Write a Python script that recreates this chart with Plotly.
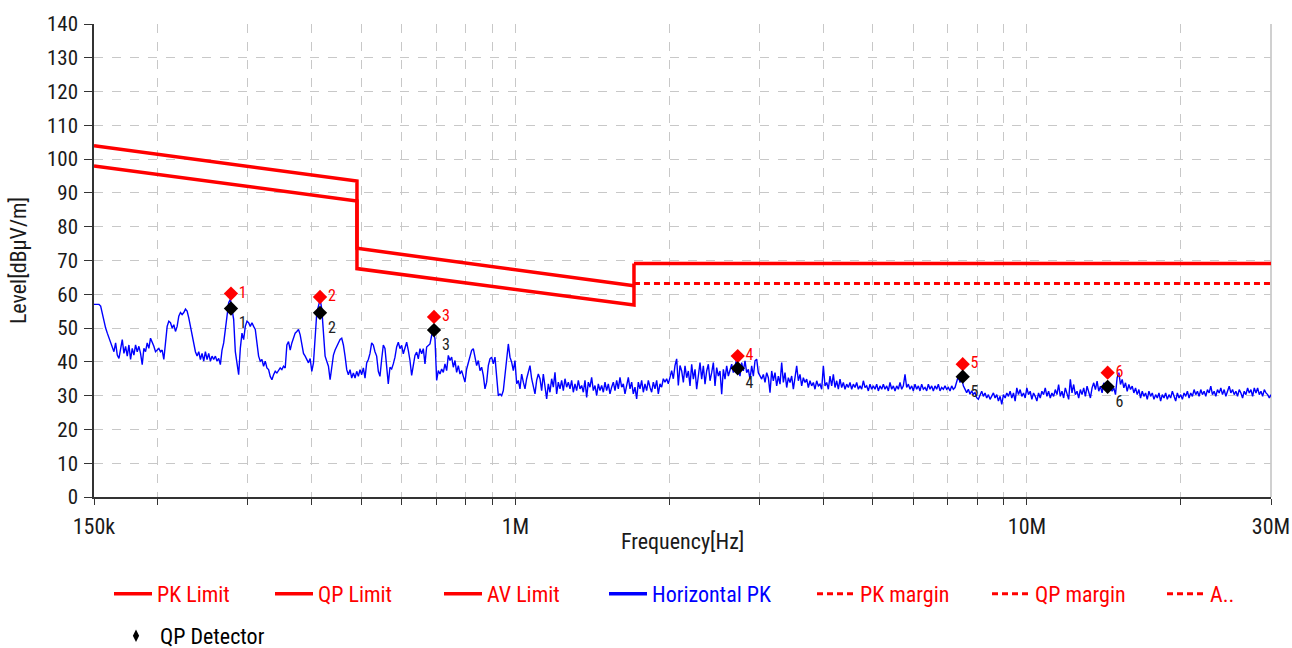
import numpy as np
import plotly.graph_objects as go

# ---------------- data ----------------
# Horizontal PK scan, four sweep segments (levels in dBuV/m)
seg_a_levels = [
    57, 57, 57, 57, 56.5, 54, 51.6, 50, 48.5, 47,
    45.6, 44, 43, 45.6, 42, 41, 44, 46.6, 42.5, 44.6,
    41.7, 45, 40.7, 44, 42, 45, 43, 44.6, 42.5, 39.2,
    44, 43, 45.6, 44, 47, 46, 44.6, 43, 43.5, 44,
    43, 43.5, 40.7, 46, 50.5, 52, 51.6, 50, 51, 49,
    50.5, 53.5, 54.6, 54, 54.6, 55.6, 55, 53, 50.5, 47.6,
    45, 43, 41.7, 43, 40.7, 42.5, 40.2, 43, 40.7, 42.5,
    40.2, 41.7, 40.7, 41.7, 40.2, 41, 39.2, 43.5, 45.6, 49.7,
    54, 57.5, 58.5, 56, 52.6, 43, 38.7, 36.2, 44, 48.5,
    46.6, 50.5, 52, 51.6, 50.5, 51.6, 50.5, 49.6, 45.6, 41.7,
    40.2, 40.7, 38.7, 40.2, 38.2, 37.7, 35.7, 34.7, 36.2, 37.2,
    36.7, 37.7, 38.2, 37.7, 38.7, 38.2, 45, 46, 43.5, 45.6,
    47, 48.5, 49, 49.6, 48, 45.6, 42.5, 41.7, 40.7, 39.7,
    41, 37.2, 39.7, 47.6, 54.6, 56.5, 58.5, 55.6, 48.5, 41.7,
    40.2, 38.7, 34.7, 38.7, 42, 43.5, 44.6, 45.6, 46.6, 47,
    45, 41.7, 37.7, 36.2, 37.7, 35.2, 36.7, 35.2, 37.2, 35.7,
    37.7, 36.2, 38.2, 35.2, 39.7, 40.7, 42.5, 45.6, 45, 43,
    41.7, 37.2, 35.7, 40.7, 45, 44, 37.7, 33.5,
]
seg_b_levels = [
    38.4, 37.9, 39.4, 41.4, 44.4, 45.8, 43.9, 44.9, 42.4, 43.9,
    45.8, 43.4, 40.4, 36, 38.9, 41.9, 42.9, 40.9, 43.9, 42.4,
    43.9, 39.4, 44.4, 44.9, 45.3, 47.8, 48.8, 46.8, 34.5, 37.4,
    36.4, 37.9, 36.9, 39.4, 37.4, 41.9, 40.4, 41.4, 38.4, 40.4,
    36.9, 38.9, 36.4, 37.4, 35.4, 34, 37.9, 39.9, 41.4, 43.4,
    43.9, 40.9, 38.9, 40.4, 37.4, 38.4, 36, 32, 34, 38.9,
    40.9, 41.4, 39.4, 41.4, 35, 30, 30.5, 30, 31.5, 36.4,
    41.4, 45.3, 41.4, 39.9, 37.4, 40.4, 33.5, 34.5, 32, 36.4,
    34, 32, 35, 37.4, 38.9, 35, 33, 30.5, 34.5, 36.4,
    35, 31.5, 36.4, 32, 29, 33.5, 31, 35, 32.5, 36.9,
    30.5, 34, 32, 34.5, 31.5, 35, 32.5, 34, 32, 34.5,
    31, 33.5, 31.5, 34.5, 32, 33, 31, 34.5, 29.5, 34,
    32.5, 35.4, 31.5, 33, 30, 33.5, 31.5, 33, 31, 34,
    31.5, 33.5, 30.5, 32.5, 34, 31.5, 34.5, 32, 35.4, 32.5,
    33.5, 30.5, 33, 35.4, 32, 34, 30.5, 32.5, 29, 34,
    32, 34.5, 31, 33.5, 31.5, 34.5, 32.5, 31, 34, 32,
    34.5, 30.5, 33.5, 32.5, 35, 34, 35, 33.5, 35.4, 37.4,
    35, 38.9, 40.9, 33, 38.9,
]
seg_c_levels = [
    37.3, 33.9, 38.8, 35.3, 37.3, 32.9, 39.3, 34.9, 37.8, 31.9,
    36.8, 39.8, 34.9, 38.8, 33.4, 37.3, 39.3, 34.4, 36.8, 39.8,
    32.9, 38.3, 35.8, 37.3, 30.4, 37.8, 34.9, 38.8, 35.8, 37.3,
    39.3, 36.8, 38.8, 40.8, 37.3, 35.8, 39.8, 37.3, 40.3, 36.8,
    37.8, 34.9, 38.8, 35.8, 40.3, 40.8, 36.8, 35.8, 34.9, 36.3,
    33.9, 36.8, 35.3, 30.9, 37.3, 34.4, 36.8, 32.9, 35.8, 33.4,
    39.8, 33.9, 36.8, 32.4, 35.3, 33.9, 35.8, 31.9, 34.9, 38.8,
    34.4, 36.3, 32.9, 35.3, 33.9, 34.9, 32.4, 34.4, 32.9, 33.9,
    31.9, 34.4, 32.9, 33.4, 31.9, 38.8, 32.9, 33.9, 31.9, 35.8,
    32.9, 36.3, 32.4, 34.4, 31.9, 34.9, 32.4, 33.9, 31.9, 33.4,
    32.4, 33.9, 31.9, 33.4, 32.4, 33.9, 31.9, 32.9, 31.9, 34.4,
    32.4, 32.9, 31.4, 33.4, 31.9, 32.9, 31.9, 33.4, 31.4, 32.9,
    31.9, 33.4, 31.9, 32.9, 31.4, 33.9, 31.9, 32.9, 31.4, 32.9,
    31.9, 33.9, 31.9, 32.9, 36.3, 32.4, 33.4, 31.9, 32.9, 31.4,
    33.4, 31.9, 32.9, 31.4, 33.4, 31.9, 32.4, 31.4, 33.4, 31.9,
    32.9, 31.4, 32.9, 31.9, 33.4, 31.4, 32.4, 31.9, 32.9, 31.9,
    32.4, 31.4, 32.9, 31.9, 32.4, 34.4, 35.8, 33.9, 35.3, 32.9,
    31.9, 30.9, 31.9, 30.4, 31.4, 30.4, 30.9, 29.4, 28.9,
]
seg_d_levels = [
    30.3, 31.3, 29.8, 30.8, 29.3, 30.3, 28.9, 29.8, 30.8, 29.3,
    30.3, 28.4, 29.8, 27.4, 30.3, 29.3, 30.8, 29.8, 31.3, 29.3,
    30.8, 28.4, 32.3, 30.3, 31.8, 29.8, 30.8, 29.3, 32.3, 30.3,
    31.3, 28.9, 30.8, 29.8, 28.4, 30.8, 29.3, 31.3, 30.3, 32.3,
    29.8, 31.3, 29.3, 30.8, 29.8, 31.8, 30.3, 33.3, 29.8, 31.3,
    29.3, 32.3, 30.3, 28.9, 34.8, 30.8, 33.3, 30.3, 31.3, 29.3,
    31.8, 30.3, 32.3, 29.8, 32.8, 31.3, 29.3, 32.3, 33.8, 31.8,
    34.3, 31.3, 32.8, 30.8, 33.8, 32.3, 33.3, 31.8, 32.8, 31.3,
    32.3, 30.3, 35.3, 36.8, 33.3, 34.8, 32.3, 33.8, 31.3, 33.3,
    31.8, 32.8, 30.8, 32.3, 30.3, 31.8, 29.3, 31.3, 29.8, 30.8,
    28.9, 31.3, 29.8, 30.8, 28.9, 30.3, 29.3, 30.8, 28.4, 30.3,
    29.3, 30.8, 28.9, 30.3, 29.3, 31.3, 29.8, 28.4, 30.8, 29.3,
    30.3, 28.9, 30.8, 29.8, 31.3, 29.3, 30.8, 29.8, 31.8, 30.3,
    31.3, 29.8, 31.8, 30.3, 31.3, 29.8, 31.8, 30.8, 32.8, 30.3,
    31.3, 29.8, 31.8, 30.8, 32.3, 30.3, 31.8, 29.8, 31.3, 32.8,
    30.8, 31.8, 30.3, 31.3, 29.8, 31.8, 30.8, 29.3, 31.3, 30.3,
    32.3, 30.8, 31.8, 29.8, 32.3, 30.8, 32.3, 30.3, 31.3, 29.8,
    31.8, 30.8, 30.3, 29.3, 30.3,
]
# start / stop frequency (Hz) of each sweep segment
seg_start_hz = [150e3, 568.5e3, 2.1135e6, 8.096e6]
seg_stop_hz = [564.2e3, 2.0975e6, 8.035e6, 30e6]

# limit lines
pk_limit_hz = [150e3, 490e3, 490e3, 1.705e6]
pk_limit_db = [104, 93.5, 73.6, 62.5]
qp_limit_hz = [150e3, 490e3, 490e3, 1.705e6, 1.705e6]
qp_limit_db = [98, 87.6, 67.6, 56.8, 69.1]
av_limit_hz = [1.705e6, 30e6]
av_limit_db = [69.1, 69.1]
pk_margin_hz = [1.705e6, 30e6]
pk_margin_db = [63.2, 63.2]

# detector readings
marker_hz = [277.9e3, 414.9e3, 693.1e3, 2.720e6, 7.489e6, 14.38e6]
peak_db = [60.2, 59.2, 53.3, 41.7, 39.3, 36.8]
qp_db = [55.8, 54.5, 49.4, 38.1, 35.6, 32.6]
marker_no = ["1", "2", "3", "4", "5", "6"]

# axis ticks
x_tick_hz = [150e3, 200e3, 300e3, 400e3, 500e3, 600e3, 700e3, 800e3, 900e3,
             1e6, 2e6, 3e6, 4e6, 5e6, 6e6, 7e6, 8e6, 9e6, 10e6, 20e6, 30e6]
x_tick_label = {150e3: "150k", 1e6: "1M", 10e6: "10M", 30e6: "30M"}
y_ticks = list(range(0, 141, 10))

# ---------------- figure ----------------
FONT = "Liberation Sans Narrow, Arial Narrow, Roboto Condensed, DejaVu Sans Condensed, sans-serif"
RED = "#ff0000"
BLUE = "#0000ff"
INK = "#1a1a1a"

segs = [seg_a_levels, seg_b_levels, seg_c_levels, seg_d_levels]
scan_hz = np.concatenate([np.geomspace(a, b, len(l)) for a, b, l in zip(seg_start_hz, seg_stop_hz, segs)])
scan_db = np.concatenate(segs)

fig = go.Figure()

fig.add_trace(go.Scatter(x=pk_limit_hz, y=pk_limit_db, mode="lines", name="PK Limit",
                         line=dict(color=RED, width=3.5), legend="legend"))
fig.add_trace(go.Scatter(x=qp_limit_hz, y=qp_limit_db, mode="lines", name="QP Limit",
                         line=dict(color=RED, width=3.5), legend="legend2"))
fig.add_trace(go.Scatter(x=av_limit_hz, y=av_limit_db, mode="lines", name="AV Limit",
                         line=dict(color=RED, width=3.5), legend="legend3"))
fig.add_trace(go.Scatter(x=scan_hz, y=scan_db, mode="lines", name="Horizontal PK",
                         line=dict(color=BLUE, width=1.4), showlegend=False))
fig.add_trace(go.Scatter(x=[None], y=[None], mode="lines", name="Horizontal PK",
                         line=dict(color=BLUE, width=3.5), legend="legend4"))
fig.add_trace(go.Scatter(x=pk_margin_hz, y=pk_margin_db, mode="lines", name="PK margin",
                         line=dict(color=RED, width=3, dash="6px,4px"), legend="legend5"))
fig.add_trace(go.Scatter(x=[None], y=[None], mode="lines", name="QP margin",
                         line=dict(color=RED, width=3, dash="6px,4px"), legend="legend6"))
fig.add_trace(go.Scatter(x=[None], y=[None], mode="lines", name="A..",
                         line=dict(color=RED, width=3, dash="6px,4px"), legend="legend7"))

# peak markers with numbers (no legend)
fig.add_trace(go.Scatter(x=marker_hz, y=peak_db, mode="markers+text", text=marker_no, showlegend=False,
                         textposition="middle right", textfont=dict(color=RED, size=16, family=FONT),
                         marker=dict(symbol="diamond", size=11, color=RED)))
# QP detector markers with numbers
fig.add_trace(go.Scatter(x=marker_hz, y=qp_db, mode="markers+text", text=marker_no, showlegend=False,
                         textposition="bottom right", textfont=dict(color="#222222", size=16, family=FONT),
                         marker=dict(symbol="diamond", size=11, color="black")))
# legend entry for the QP detector
fig.add_trace(go.Scatter(x=[None], y=[None], mode="markers", name="QP Detector",
                         marker=dict(symbol="diamond-tall", size=9, color="black"), legend="legend8"))

# legends: one per entry so each can sit at its own place and colour
L, R, T, B = 94, 21, 24, 151
PW, PH = 1292 - L - R, 648 - T - B


def px_x(px):
    return (px - L) / PW


def px_y(py):
    return (648 - B - py) / PH


legend_spec = [
    ("legend", 157, 594, RED),
    ("legend2", 318, 594, RED),
    ("legend3", 487, 594, RED),
    ("legend4", 652, 594, BLUE),
    ("legend5", 860, 594, RED),
    ("legend6", 1035, 594, RED),
    ("legend7", 1210, 594, RED),
    ("legend8", 160, 636, "black"),
]
legend_layout = {}
for key, tx, ty, col in legend_spec:
    legend_layout[key] = dict(
        x=px_x(tx - 48), y=px_y(ty), xanchor="left", yanchor="middle",
        xref="paper", yref="paper", bgcolor="rgba(0,0,0,0)", borderwidth=0,
        font=dict(family=FONT, size=22, color=col), itemwidth=38,
    )

fig.update_layout(
    width=1292, height=648,
    margin=dict(l=L, r=R, t=T, b=B, autoexpand=False),
    paper_bgcolor="white", plot_bgcolor="white",
    font=dict(family=FONT, size=22, color=INK),
    **legend_layout,
)

fig.update_xaxes(
    type="log", range=[np.log10(150e3), np.log10(30e6)],
    tickmode="array", tickvals=x_tick_hz,
    ticktext=[x_tick_label.get(v, "") for v in x_tick_hz],
    showgrid=True, gridcolor="#c8c8c8", griddash="dash", gridwidth=1,
    showline=True, linecolor="#333333", linewidth=1.5,
    ticks="outside", ticklen=6, tickcolor="#333333", tickwidth=1.2,
    tickfont=dict(size=22, color=INK), ticklabelstandoff=3,
    zeroline=False, automargin=False,
)
fig.update_yaxes(
    range=[0, 140], tickmode="array", tickvals=y_ticks,
    showgrid=True, gridcolor="#c8c8c8", griddash="dash", gridwidth=1,
    showline=True, linecolor="#333333", linewidth=1.5,
    ticks="outside", ticklen=8, tickcolor="#333333", tickwidth=1.2,
    tickfont=dict(size=21, color=INK), ticklabelstandoff=2,
    zeroline=False, automargin=False,
    title=dict(text="Level[dBµV/m]", font=dict(size=22, color=INK), standoff=14),
)

# x-axis title sits right under the tick label row
fig.add_annotation(text="Frequency[Hz]", xref="paper", yref="paper", x=0.5, y=px_y(541),
                   xanchor="center", yanchor="middle", showarrow=False,
                   font=dict(size=22, color=INK, family=FONT))

fig.add_shape(type="line", xref="paper", yref="paper", x0=1, x1=1, y0=0, y1=1,
              line=dict(color="#d0d0d0", width=2), layer="below")

fig.write_html("out.html")
